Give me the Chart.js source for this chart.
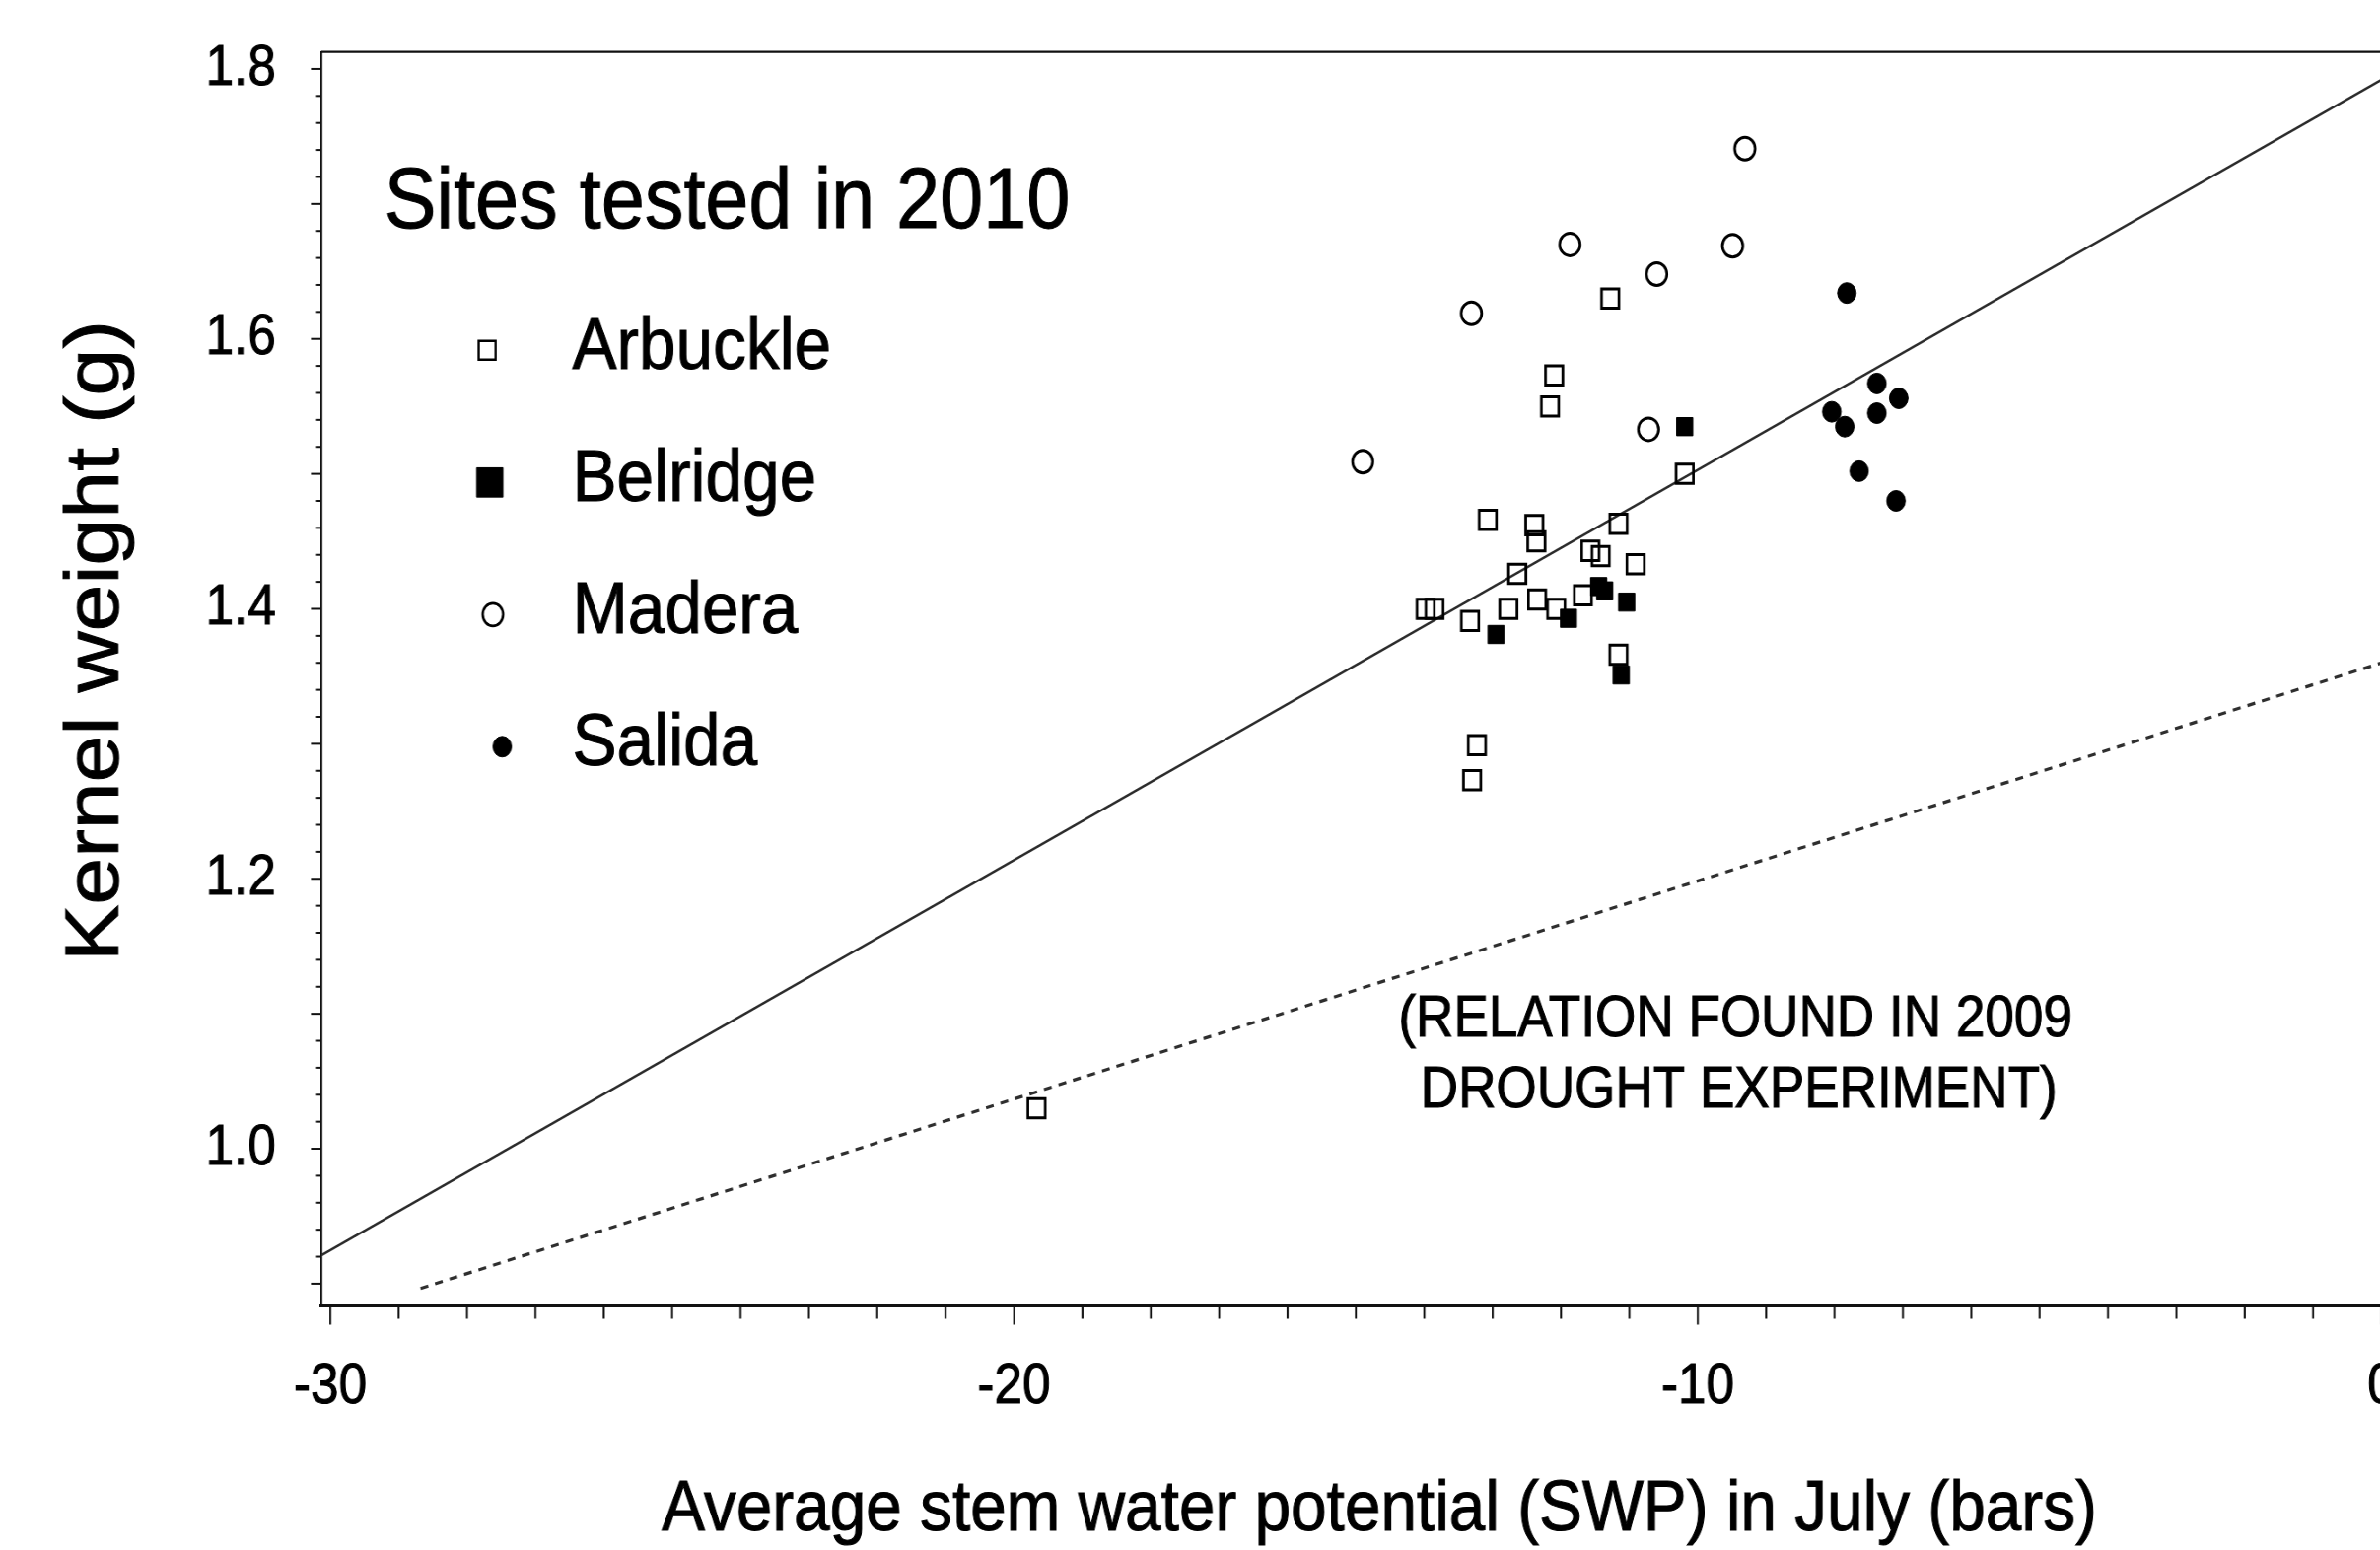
<!DOCTYPE html>
<html>
<head>
<meta charset="utf-8">
<title>Kernel weight vs stem water potential</title>
<script src="https://cdn.jsdelivr.net/npm/chart.js@4.4.1/dist/chart.umd.min.js"></script>
<style>
  html, body { margin: 0; padding: 0; background: #fff; overflow: hidden; width: 2414px; height: 1572px; }
  #wrap { position: absolute; left: 0; top: 0; transform: scaleX(0.9); transform-origin: 0 0; }
  canvas { display: block; }
</style>
</head>
<body>
<div id="wrap"><canvas id="chart" width="2760" height="1572"></canvas></div>
<script>
// Average July stem water potential (bars) and kernel weight (g), by site, 2010
const arbuckleSWP = [-11.28, -12.10, -12.16, -10.19, -13.07, -12.39, -12.36, -11.16, -11.57, -11.42, -10.91, -12.64,
                     -12.35, -11.68, -12.77, -12.07, -13.98, -13.85, -13.33, -11.16, -13.23, -13.30, -19.67];
const arbuckleKW  = [1.630, 1.573, 1.550, 1.500, 1.466, 1.462, 1.450, 1.463, 1.443, 1.439, 1.433, 1.426,
                     1.407, 1.410, 1.400, 1.400, 1.400, 1.400, 1.391, 1.366, 1.299, 1.273, 1.030];

const belridgeSWP = [-10.19, -11.45, -11.36, -11.04, -11.89, -12.95, -11.12];
const belridgeKW  = [1.535, 1.4165, 1.4133, 1.405, 1.393, 1.381, 1.351];

const maderaSWP = [-9.31, -11.87, -9.49, -10.60, -13.31, -10.72, -14.90];
const maderaKW  = [1.741, 1.670, 1.669, 1.648, 1.619, 1.533, 1.509];

const salidaSWP = [-7.82, -7.38, -7.06, -8.04, -7.38, -7.85, -7.64, -7.10];
const salidaKW  = [1.634, 1.567, 1.556, 1.546, 1.545, 1.535, 1.502, 1.480];

// Fitted relation for 2010 (solid) and the 2009 drought experiment relation (dashed): end points
const fit2010SWP = [-30.13, 0];
const fit2010KW  = [0.921, 1.792];
const fit2009SWP = [-28.68, 0];
const fit2009KW  = [0.8965, 1.360];

// Axis ticks
const xTickValues = [-30, -20, -10, 0];
const yTickValues = [1.0, 1.2, 1.4, 1.6, 1.8];

const siteNames = ['Arbuckle', 'Belridge', 'Madera', 'Salida'];
const legendTitle = 'Sites tested in 2010';
const noteLines = ['(RELATION FOUND IN 2009', 'DROUGHT EXPERIMENT)'];
const xTitle = 'Average stem water potential (SWP) in July (bars)';
const yTitle = 'Kernel weight (g)';

const FONT = '"Liberation Sans", Arial, Helvetica, sans-serif';

function pts(xs, ys) { return xs.map((x, i) => ({ x: x, y: ys[i] })); }

const siteStyles = [
  { pointStyle: 'rect',   radius: 13.8, fill: 'rgba(0,0,0,0)', border: 3,   legendRadius: 13.5, legendBorder: 2.5 },
  { pointStyle: 'rect',   radius: 13.0, fill: '#000',          border: 1,   legendRadius: 21,   legendBorder: 1 },
  { pointStyle: 'circle', radius: 11.5, fill: 'rgba(0,0,0,0)', border: 3,   legendRadius: 11.5, legendBorder: 2.8 },
  { pointStyle: 'circle', radius: 10.5, fill: '#000',          border: 1,   legendRadius: 10.5, legendBorder: 1 }
];
const siteData = [
  pts(arbuckleSWP, arbuckleKW),
  pts(belridgeSWP, belridgeKW),
  pts(maderaSWP, maderaKW),
  pts(salidaSWP, salidaKW)
];

const siteDatasets = siteNames.map((name, i) => ({
  label: name,
  data: siteData[i],
  showLine: false,
  pointStyle: siteStyles[i].pointStyle,
  pointRadius: siteStyles[i].radius,
  pointBackgroundColor: siteStyles[i].fill,
  pointBorderColor: '#000',
  pointBorderWidth: siteStyles[i].border,
  order: 1
}));

const lineDatasets = [
  {
    label: 'fit 2010',
    data: pts(fit2010SWP, fit2010KW),
    showLine: true,
    borderColor: '#2b2b2b',
    borderWidth: 2.6,
    pointRadius: 0,
    order: 2
  },
  {
    label: 'relation 2009',
    data: pts(fit2009SWP, fit2009KW),
    showLine: true,
    borderColor: '#2e2e2e',
    borderWidth: 3.2,
    borderDash: [9, 8],
    pointRadius: 0,
    order: 2
  }
];

// Text drawn with a thin outline so the glyphs carry the same weight as the axis labels
function heavyText(ctx, text, x, y) {
  ctx.fillText(text, x, y);
  ctx.strokeText(text, x, y);
}

// Frame, minor tick marks, legend, note and axis titles
const decorations = {
  id: 'decorations',
  beforeDatasetsDraw(chart) {
    const ctx = chart.ctx;
    const a = chart.chartArea;
    const xs = chart.scales.x, ys = chart.scales.y;
    ctx.save();
    ctx.strokeStyle = '#111';
    // top frame line
    ctx.lineWidth = 2.2;
    ctx.beginPath();
    ctx.moveTo(a.left, a.top);
    ctx.lineTo(a.right + 50, a.top);
    ctx.stroke();
    // y tick marks: every 0.02, longer every 0.1
    ctx.lineWidth = 2;
    for (let i = 45; i <= 90; i++) {
      const v = i / 50;
      if (v < ys.min || v > ys.max) continue;
      const y = ys.getPixelForValue(v);
      const len = (i % 5 === 0) ? 11.5 : 5.5;
      ctx.beginPath();
      ctx.moveTo(a.left - len, y);
      ctx.lineTo(a.left, y);
      ctx.stroke();
    }
    // x tick marks: every 1 bar, longer every 10
    ctx.lineWidth = 2.2;
    for (let v = -30; v <= 0; v++) {
      const x = xs.getPixelForValue(v);
      const len = (v % 10 === 0) ? 19 : 13;
      ctx.beginPath();
      ctx.moveTo(x, a.bottom);
      ctx.lineTo(x, a.bottom + len);
      ctx.stroke();
    }
    ctx.restore();
  },
  afterDraw(chart) {
    const ctx = chart.ctx;
    const a = chart.chartArea;
    const xs = chart.scales.x, ys = chart.scales.y;
    ctx.save();
    ctx.fillStyle = '#000';
    ctx.strokeStyle = '#000';
    ctx.lineWidth = 1;
    ctx.textBaseline = 'alphabetic';

    // legend
    ctx.textAlign = 'left';
    ctx.font = '88px ' + FONT;
    heavyText(ctx, legendTitle, a.left + 71, 231);
    const markerX = [549, 552, 555.5, 566];
    const rowBase = 374.3, rowStep = 134;
    ctx.font = '75px ' + FONT;
    siteNames.forEach((name, i) => {
      const base = rowBase + i * rowStep;
      const st = siteStyles[i];
      ctx.save();
      ctx.fillStyle = st.fill;
      ctx.strokeStyle = '#000';
      ctx.lineWidth = st.legendBorder;
      Chart.helpers.drawPoint(ctx, {
        pointStyle: st.pointStyle, radius: st.legendRadius, rotation: 0, borderWidth: st.legendBorder
      }, markerX[i], base - 19);
      ctx.restore();
      heavyText(ctx, name, 645, base);
    });

    // note under the 2009 relation
    ctx.textAlign = 'center';
    ctx.font = '59px ' + FONT;
    const nx = xs.getPixelForValue(-9.45);
    heavyText(ctx, noteLines[0], nx, ys.getPixelForValue(1.083));
    heavyText(ctx, noteLines[1], nx + 4, ys.getPixelForValue(1.031));

    // axis titles
    ctx.font = '73px ' + FONT;
    heavyText(ctx, xTitle, 1554.5, 1552);
    ctx.save();
    ctx.translate(133, 650);
    ctx.rotate(-Math.PI / 2);
    ctx.font = '86px ' + FONT;
    heavyText(ctx, yTitle, 0, 0);
    ctx.restore();

    ctx.restore();
  }
};

new Chart(document.getElementById('chart'), {
  type: 'scatter',
  data: { datasets: lineDatasets.concat(siteDatasets) },
  options: {
    responsive: false,
    animation: false,
    devicePixelRatio: 1,
    layout: { padding: { top: 52.7, right: 45.3, bottom: 0, left: 0 } },
    plugins: { legend: { display: false }, tooltip: { enabled: false } },
    scales: {
      x: {
        type: 'linear',
        position: 'bottom',
        min: -30.134,
        max: 0.4,
        grid: { display: false, drawTicks: false },
        border: { display: true, color: '#111', width: 3 },
        ticks: {
          color: '#000',
          font: { family: FONT, size: 57 },
          padding: 49,
          maxRotation: 0,
          textStrokeColor: '#000',
          textStrokeWidth: 1,
          callback: v => String(v)
        },
        afterBuildTicks: s => { s.ticks = xTickValues.map(v => ({ value: v })); },
        afterFit: s => {
          s.height = 247.5;
          s.paddingLeft = 0; s.paddingRight = 0; s.paddingTop = 0; s.paddingBottom = 0;
        }
      },
      y: {
        type: 'linear',
        position: 'left',
        min: 0.8835,
        max: 1.8126,
        grid: { display: false, drawTicks: false },
        border: { display: true, color: '#111', width: 2.2 },
        ticks: {
          color: '#000',
          font: { family: FONT, size: 57 },
          padding: 51,
          textStrokeColor: '#000',
          textStrokeWidth: 1,
          callback: v => Number(v).toFixed(1)
        },
        afterBuildTicks: s => { s.ticks = yTickValues.map(v => ({ value: v })); },
        afterFit: s => {
          s.width = 361.9;
          s.paddingLeft = 0; s.paddingRight = 0; s.paddingTop = 0; s.paddingBottom = 0;
        }
      }
    }
  },
  plugins: [decorations]
});
</script>
</body>
</html>
